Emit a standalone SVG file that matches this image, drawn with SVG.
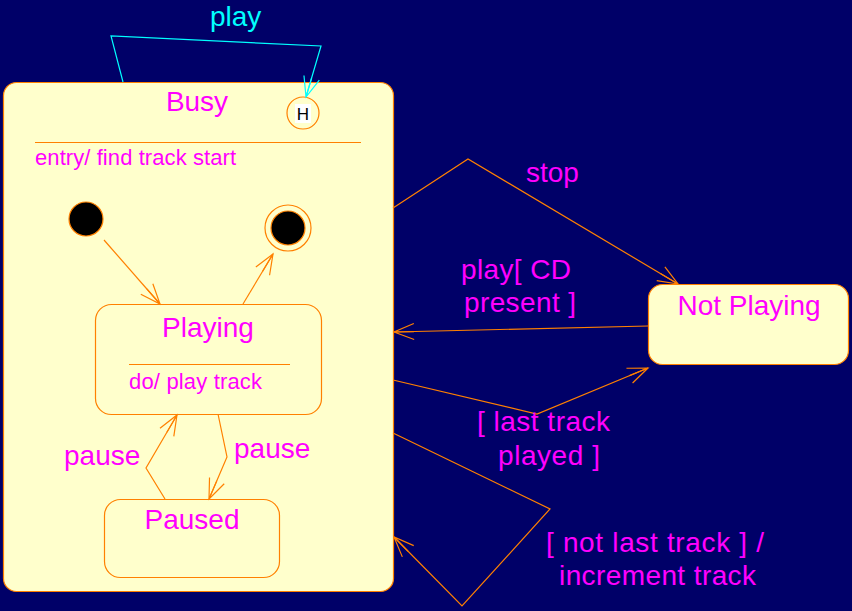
<svg xmlns="http://www.w3.org/2000/svg" width="852" height="611" viewBox="0 0 852 611">
<style>
.st{fill:#ffffcc;stroke:#ff8000;stroke-width:1.2}
.ln{fill:none;stroke:#ff8000;stroke-width:1.2}
.cy{fill:none;stroke:#00ffff;stroke-width:1.2}
.t{font-family:"Liberation Sans",Arial,sans-serif;font-size:28px;fill:#ff00ff}
.s{font-family:"Liberation Sans",Arial,sans-serif;font-size:22px;fill:#ff00ff}
.c{text-anchor:middle}
</style>
<defs>
<marker id="ao" markerUnits="userSpaceOnUse" markerWidth="24" markerHeight="20" refX="0" refY="0" viewBox="-22 -10 24 20" orient="auto" overflow="visible">
<path d="M-20,-8 L0,0 L-20,8 M-20,0 L0,0" fill="none" stroke="#ff8000" stroke-width="1.2"/>
</marker>
<marker id="ac" markerUnits="userSpaceOnUse" markerWidth="24" markerHeight="20" refX="0" refY="0" viewBox="-22 -10 24 20" orient="auto" overflow="visible">
<path d="M-20,-8 L0,0 L-20,8 M-20,0 L0,0" fill="none" stroke="#00ffff" stroke-width="1.2"/>
</marker>
</defs>
<rect x="0" y="0" width="852" height="611" fill="#000068"/>

<g id="busy">
<rect class="st" x="3.5" y="82.5" width="390" height="509" rx="13"/>
<text class="t c" x="197" y="111">Busy</text>
<line class="ln" x1="35" y1="142.5" x2="361" y2="142.5"/>
<text class="s" x="35" y="165" textLength="201" lengthAdjust="spacing">entry/ find track start</text>
</g>

<g id="history">
<circle cx="303" cy="113" r="16" fill="#ffffcc" stroke="#ff8000" stroke-width="1.2"/>
<rect x="295" y="104" width="16" height="19" fill="#ffffff"/>
<text x="303" y="119.5" font-family="Liberation Sans,Arial,sans-serif" font-size="17" fill="#000000" text-anchor="middle">H</text>
</g>

<g id="initial">
<circle cx="86" cy="219" r="17" fill="#000000" stroke="#ff8000" stroke-width="1.2"/>
</g>

<g id="final">
<circle cx="288" cy="228" r="23" fill="none" stroke="#ff8000" stroke-width="1.2"/>
<circle cx="288" cy="228" r="17" fill="#000000" stroke="#ff8000" stroke-width="1.2"/>
</g>

<g id="playing">
<rect class="st" x="95.5" y="304.5" width="226" height="110" rx="16"/>
<text class="t c" x="208" y="337">Playing</text>
<line class="ln" x1="129" y1="364.5" x2="290" y2="364.5"/>
<text class="s" x="129" y="389" textLength="133" lengthAdjust="spacing">do/ play track</text>
</g>

<g id="paused">
<rect class="st" x="104.5" y="499.5" width="175" height="78" rx="16"/>
<text class="t c" x="192" y="529">Paused</text>
</g>

<g id="notplaying">
<rect class="st" x="648.5" y="284.5" width="200" height="80" rx="14"/>
<text class="t c" x="749" y="315">Not Playing</text>
</g>

<g id="connectors">
<polyline class="cy" points="123,82 111,36 321,46 306,97" marker-end="url(#ac)"/>
<line class="ln" x1="104" y1="240" x2="160" y2="304" marker-end="url(#ao)"/>
<line class="ln" x1="243" y1="304" x2="273" y2="254" marker-end="url(#ao)"/>
<polyline class="ln" points="165,499 146,468 177,415" marker-end="url(#ao)"/>
<polyline class="ln" points="218,414 227,457 209,499" marker-end="url(#ao)"/>
<polyline class="ln" points="393,208 468,159 678,284" marker-end="url(#ao)"/>
<line class="ln" x1="648" y1="326" x2="394" y2="332" marker-end="url(#ao)"/>
<polyline class="ln" points="393,380 537,414 648,368" marker-end="url(#ao)"/>
<polyline class="ln" points="393,433 550,509 462,606 394,537" marker-end="url(#ao)"/>
</g>

<g id="labels">
<text class="t" x="210" y="26" style="fill:#00ffff">play</text>
<text class="t" x="526" y="182">stop</text>
<text class="t" x="461" y="279" textLength="110" lengthAdjust="spacing">play[ CD</text>
<text class="t" x="464" y="312" textLength="112" lengthAdjust="spacing">present ]</text>
<text class="t" x="477" y="431" textLength="133" lengthAdjust="spacing">[ last track</text>
<text class="t" x="498" y="465" textLength="102" lengthAdjust="spacing">played ]</text>
<text class="t" x="546" y="552" textLength="218" lengthAdjust="spacing">[ not last track ] /</text>
<text class="t" x="559" y="585" textLength="197" lengthAdjust="spacing">increment track</text>
<text class="t" x="64" y="465">pause</text>
<text class="t" x="234" y="458">pause</text>
</g>
</svg>
